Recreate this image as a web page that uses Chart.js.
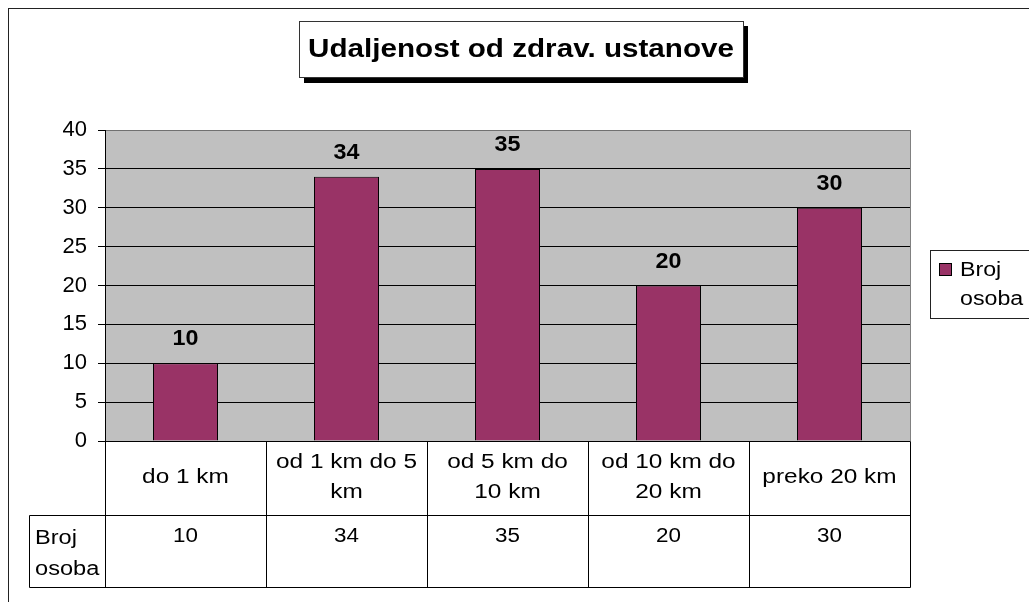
<!DOCTYPE html>
<html>
<head>
<meta charset="utf-8">
<script src="https://cdn.jsdelivr.net/npm/chart.js@4/dist/chart.umd.min.js"></script>
<style>
  html, body { margin: 0; padding: 0; background: #fff; }
  #wrap { width: 1029px; height: 602px; }
</style>
</head>
<body>
<div id="wrap"><canvas id="chart" width="1029" height="602"></canvas></div>
<script>
// chart data
const titleText = "Udaljenost od zdrav. ustanove";
const seriesName = "Broj osoba";
const categories = [
  ["do 1 km"],
  ["od 1 km do 5", "km"],
  ["od 5 km do", "10 km"],
  ["od 10 km do", "20 km"],
  ["preko 20 km"]
];
const values = [10, 34, 35, 20, 30];
const yTicks = [0, 5, 10, 15, 20, 25, 30, 35, 40];

const FONT = "'Liberation Sans', Arial, sans-serif";
const BAR_COLOR = "#993366";

// draw text stretched horizontally, like the old excel export
function drawText(ctx, text, x, y, font, align, sx) {
  ctx.save();
  ctx.font = font;
  ctx.textAlign = align;
  ctx.textBaseline = "middle";
  ctx.fillStyle = "#000";
  ctx.translate(x, y);
  ctx.scale(sx, 1);
  ctx.fillText(text, 0, 0);
  ctx.restore();
}

function line(ctx, x1, y1, x2, y2, color) {
  ctx.save();
  ctx.strokeStyle = color || "#000";
  ctx.lineWidth = 1;
  ctx.beginPath();
  ctx.moveTo(Math.round(x1) + 0.5, Math.round(y1) + 0.5);
  ctx.lineTo(Math.round(x2) + 0.5, Math.round(y2) + 0.5);
  ctx.stroke();
  ctx.restore();
}

const excelLook = {
  id: "excelLook",
  beforeDraw(chart) {
    const ctx = chart.ctx;
    const a = chart.chartArea;
    ctx.save();
    ctx.fillStyle = "#fff";
    ctx.fillRect(0, 0, chart.width, chart.height);
    // outer frame
    ctx.strokeStyle = "#222";
    ctx.lineWidth = 1;
    ctx.strokeRect(8.5, 8.5, 1200, 800);
    // plot background
    ctx.fillStyle = "#C0C0C0";
    ctx.fillRect(a.left, a.top, a.right - a.left, a.bottom - a.top);
    ctx.strokeStyle = "#808080";
    ctx.strokeRect(Math.round(a.left) + 0.5, Math.round(a.top) + 0.5,
      Math.round(a.right - a.left), Math.round(a.bottom - a.top));
    ctx.restore();
  },
  afterDraw(chart) {
    const ctx = chart.ctx;
    const a = chart.chartArea;
    const x = chart.scales.x;
    const meta = chart.getDatasetMeta(0);

    // value labels above bars
    meta.data.forEach((bar, i) => {
      drawText(ctx, String(values[i]), bar.x, bar.y - 24,
        "bold 22px " + FONT, "center", 1.06);
    });

    // data table under the axis
    const half = (x.getPixelForValue(1) - x.getPixelForValue(0)) / 2;
    const rowTop = a.bottom;
    const rowMid = 515;
    const rowBot = 587;
    const tableLeft = 29;
    line(ctx, a.left, rowTop, a.left, rowBot);
    categories.forEach((lines, i) => {
      const cx = x.getPixelForValue(i);
      line(ctx, cx + half, rowTop, cx + half, rowBot);
      const startY = 477 - (lines.length - 1) * 15;
      lines.forEach((t, k) => {
        drawText(ctx, t, cx, startY + k * 30, "20px " + FONT, "center", 1.22);
      });
      drawText(ctx, String(values[i]), cx, 536, "20px " + FONT, "center", 1.12);
    });
    line(ctx, tableLeft, rowMid, a.right, rowMid);
    line(ctx, tableLeft, rowBot, a.right, rowBot);
    line(ctx, tableLeft, rowMid, tableLeft, rowBot);
    const nameLines = seriesName.split(" ");
    nameLines.forEach((t, k) => {
      drawText(ctx, t, 35, 538 + k * 31, "20px " + FONT, "left", 1.18);
    });

    // title box with shadow
    ctx.save();
    ctx.fillStyle = "#000";
    ctx.fillRect(304, 26, 444, 57);
    ctx.fillStyle = "#fff";
    ctx.fillRect(299, 21, 444, 56);
    ctx.strokeStyle = "#333";
    ctx.strokeRect(299.5, 21.5, 444, 56);
    ctx.restore();
    drawText(ctx, titleText, 521, 50, "bold 26px " + FONT, "center", 1.14);

    // legend box
    ctx.save();
    ctx.fillStyle = "#fff";
    ctx.fillRect(930, 250, 120, 68);
    ctx.strokeStyle = "#222";
    ctx.strokeRect(930.5, 250.5, 120, 68);
    ctx.fillStyle = BAR_COLOR;
    ctx.fillRect(939.5, 263.5, 12, 12);
    ctx.strokeStyle = "#000";
    ctx.strokeRect(939.5, 263.5, 12, 12);
    ctx.restore();
    nameLines.forEach((t, k) => {
      drawText(ctx, t, 960, 270 + k * 29, "20px " + FONT, "left", 1.16);
    });
  }
};

new Chart(document.getElementById("chart"), {
  type: "bar",
  data: {
    labels: categories,
    datasets: [{
      label: seriesName,
      data: values,
      backgroundColor: BAR_COLOR,
      borderColor: "#000",
      borderWidth: 1,
      barPercentage: 0.404,
      categoryPercentage: 1
    }]
  },
  options: {
    responsive: false,
    animation: false,
    events: [],
    layout: { padding: { left: 0, top: 130, right: 119, bottom: 161 } },
    plugins: {
      legend: { display: false },
      title: { display: false },
      tooltip: { enabled: false }
    },
    scales: {
      x: { display: false },
      y: {
        min: 0,
        max: 40,
        afterFit(scale) { scale.width = 105; },
        afterBuildTicks(scale) { scale.ticks = yTicks.map(v => ({ value: v })); },
        border: { display: true, color: "#000", width: 1 },
        grid: {
          color: (c) => (c.tick && c.tick.value === 40 ? "#707070" : "#000"),
          lineWidth: 1,
          tickLength: 7,
          tickColor: "#000"
        },
        ticks: {
          color: "#000",
          padding: 11,
          font: { family: FONT, size: 22 }
        }
      }
    }
  },
  plugins: [excelLook]
});
</script>
</body>
</html>
